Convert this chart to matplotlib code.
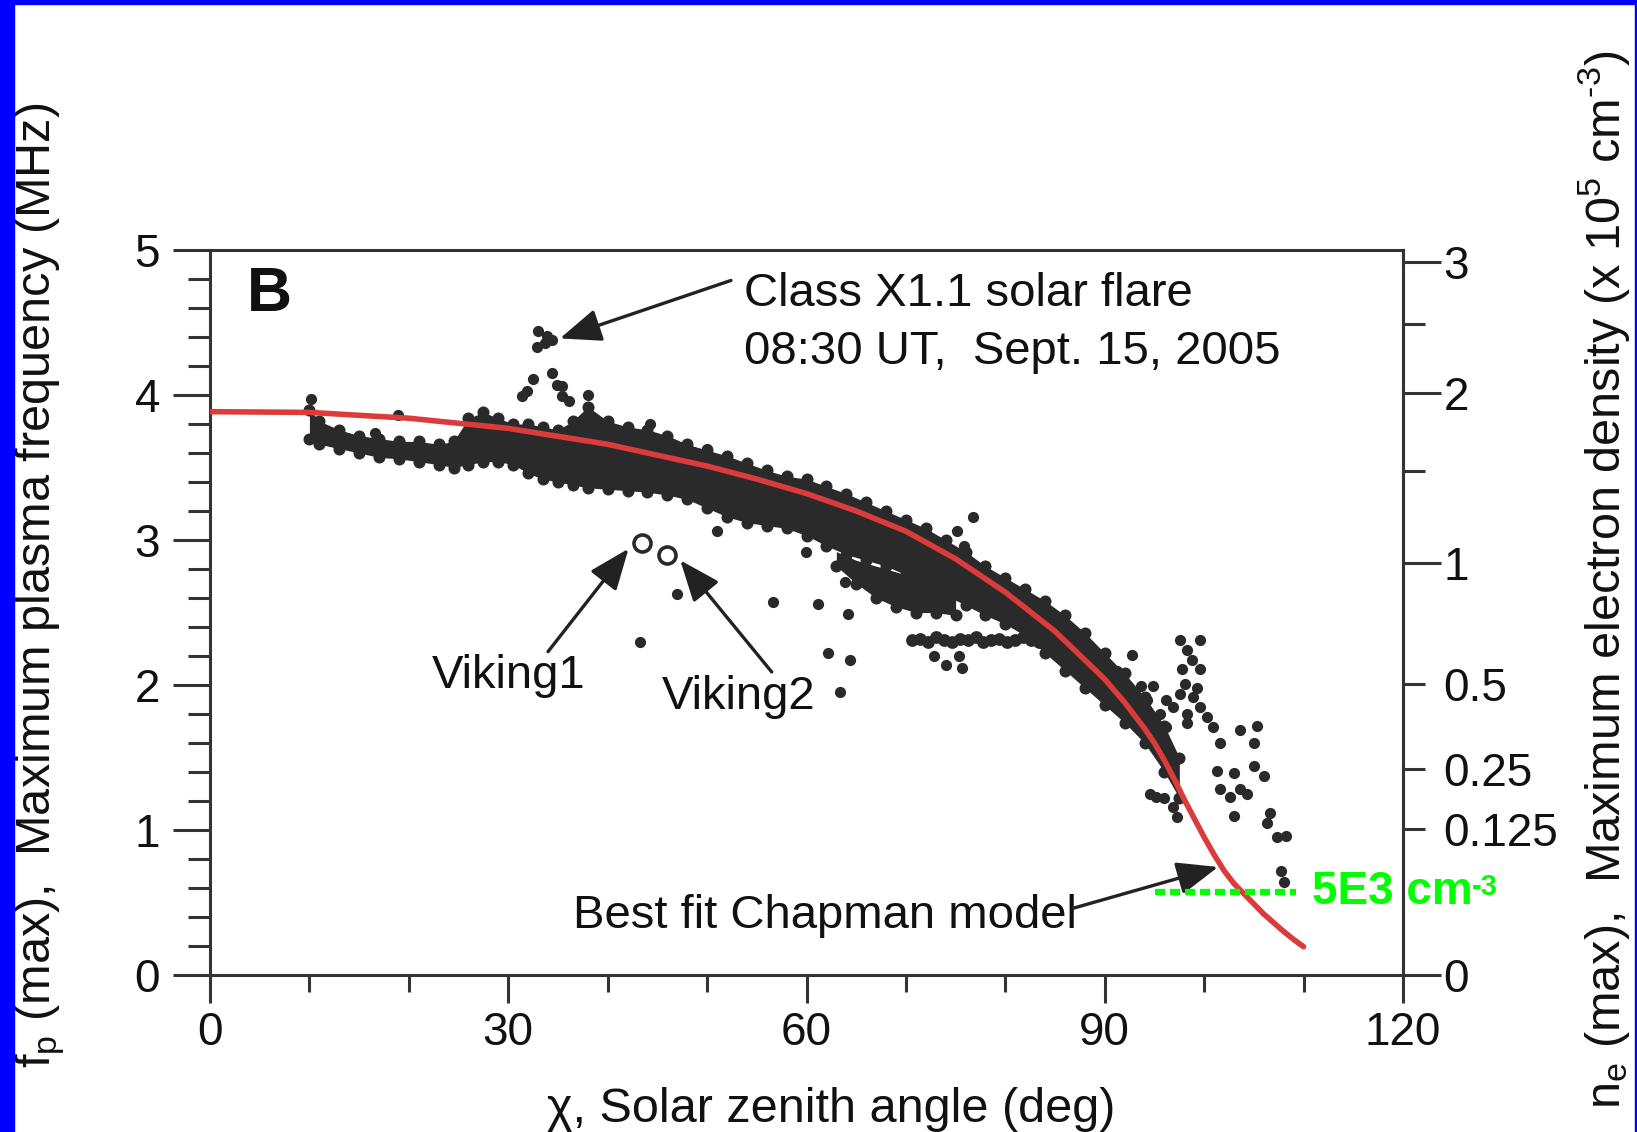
import numpy as np
import matplotlib
matplotlib.use("Agg")
import matplotlib.pyplot as plt
from matplotlib.patches import Rectangle

# ---------------- data ----------------
# Chapman model curve: solar zenith angle (deg) vs fp (MHz)
chap_x = [0, 10, 20, 30, 40, 50, 55, 60, 65, 70, 75, 80, 85, 90, 91, 92, 93, 94, 95, 96, 97, 98,
          99, 100, 101, 102, 103, 104, 105, 106, 107, 108, 109, 110]
chap_y = [3.885, 3.88, 3.84, 3.77, 3.66, 3.51, 3.42, 3.32, 3.20, 3.06, 2.87, 2.64, 2.37, 2.04,
          1.96, 1.88, 1.79, 1.70, 1.60, 1.48, 1.35, 1.21, 1.08, 0.95, 0.83, 0.72, 0.63, 0.56,
          0.49, 0.42, 0.36, 0.30, 0.245, 0.195]

# dense observation band (lower / upper envelope)
band_x = [10, 11, 13, 15, 17, 19, 21, 23, 24.5, 26, 27.5, 29, 30.5, 32, 33.5, 35, 36.5, 38,
          40, 42, 44, 46, 48, 50, 52, 54, 56, 58, 60, 62, 64, 66, 68, 70, 72, 74, 76, 78,
          80, 82, 84, 86, 88, 90, 92, 94, 96, 97.5]
band_lo = [3.70, 3.66, 3.63, 3.60, 3.57, 3.56, 3.54, 3.52, 3.50, 3.52, 3.54, 3.54, 3.52, 3.46, 3.42, 3.40, 3.38, 3.36,
           3.35, 3.34, 3.33, 3.31, 3.28, 3.22, 3.16, 3.12, 3.10, 3.08, 3.03, 2.96, 2.90, 2.86, 2.82, 2.76, 2.70, 2.62, 2.55, 2.48,
           2.42, 2.34, 2.22, 2.10, 1.98, 1.86, 1.74, 1.60, 1.40, 1.22]
band_hi = [3.90, 3.82, 3.76, 3.72, 3.70, 3.68, 3.68, 3.66, 3.68, 3.84, 3.88, 3.84, 3.80, 3.80, 3.78, 3.76, 3.82, 3.92,
           3.82, 3.78, 3.76, 3.72, 3.66, 3.62, 3.58, 3.53, 3.48, 3.44, 3.42, 3.37, 3.32, 3.26, 3.20, 3.14, 3.08, 3.00, 2.92, 2.82,
           2.74, 2.66, 2.58, 2.48, 2.36, 2.22, 2.08, 1.92, 1.72, 1.50]

# lower sub-branch (65-75 deg)
sub_x = [63, 65, 67, 69, 71, 73, 75]
sub_lo = [2.82, 2.70, 2.60, 2.54, 2.50, 2.50, 2.48]
sub_hi = [2.92, 2.86, 2.82, 2.78, 2.74, 2.68, 2.60]

# horizontal branch near 2.3 MHz
hb_x = [70.6, 71.4, 72.2, 73.0, 73.8, 74.6, 75.4, 76.2, 77.0, 77.8, 78.6, 79.4, 80.2,
        81.0, 81.8, 82.6, 83.4, 84.2, 85.0, 85.8, 86.6, 87.4]
hb_y = [2.31, 2.32, 2.30, 2.33, 2.31, 2.30, 2.32, 2.31, 2.33, 2.30, 2.31, 2.32, 2.30,
        2.31, 2.33, 2.31, 2.30, 2.32, 2.31, 2.30, 2.29, 2.28]

# scattered individual observations
pts_x = [10.2, 18.9, 16.6,
         33.0, 33.9, 34.4, 33.7, 32.9, 32.5, 34.4, 34.9, 35.4, 31.9, 31.4, 35.4, 36.1, 38.0,
         44.3, 50.0, 51.0, 47.0, 43.3, 56.6, 59.9, 61.2, 64.2, 63.9, 62.2, 64.4, 63.4,
         76.7, 75.1, 75.8, 72.8, 74.0, 75.3, 75.6,
         92.7, 91.2, 93.6, 94.9, 94.2, 96.2, 95.6, 96.9, 98.3, 99.6, 100.3, 100.9, 101.6,
         96.2, 95.3, 98.3, 98.9, 97.6,
         97.6, 99.6, 98.3, 98.8, 97.8, 99.6, 98.1, 99.3,
         101.3, 103.0, 105.0, 106.0, 103.6, 102.6, 104.3, 103.0, 101.6,
         103.6, 105.3, 105.0,
         106.6, 106.3, 107.3, 108.2, 107.7, 108.0,
         94.6, 96.0, 97.3, 96.9, 95.2]
pts_y = [3.97, 3.86, 3.74,
         4.44, 4.41, 4.38, 4.36, 4.33, 4.11, 4.15, 4.07, 4.06, 4.03, 3.99, 3.99, 3.96, 4.00,
         3.80, 3.63, 3.06, 2.63, 2.30, 2.57, 2.92, 2.56, 2.49, 2.71, 2.22, 2.17, 1.95,
         3.16, 3.06, 2.96, 2.20, 2.14, 2.20, 2.12,
         2.21, 2.10, 1.99, 1.99, 1.90, 1.90, 1.80, 1.85, 1.80, 1.85, 1.78, 1.71, 1.60,
         1.71, 1.62, 1.74, 1.92, 1.94,
         2.31, 2.31, 2.24, 2.17, 2.11, 2.11, 2.01, 1.98,
         1.41, 1.39, 1.44, 1.37, 1.28, 1.23, 1.25, 1.10, 1.28,
         1.69, 1.72, 1.60,
         1.12, 1.05, 0.95, 0.96, 0.72, 0.64,
         1.25, 1.22, 1.09, 1.16, 1.23]

# Viking lander measurements
viking_x = [43.5, 46.0]
viking_y = [2.98, 2.90]

# right-axis ticks (x 1e5 cm^-3)
ne_major = [0, 1, 2, 3]
ne_minor = [0.125, 0.25, 0.5, 1.5, 2.5]
ne_minor_labels = ["0.125", "0.25", "0.5", "", ""]
ne_line_fp = 0.57   # 5E3 cm^-3 level (MHz)

# ---------------- style ----------------
plt.rcParams["font.family"] = ["Liberation Sans", "DejaVu Sans"]
plt.rcParams["mathtext.fontset"] = "custom"
plt.rcParams["mathtext.rm"] = "Liberation Sans"
plt.rcParams["mathtext.it"] = "Liberation Sans:italic"
plt.rcParams["mathtext.bf"] = "Liberation Sans:bold"

W, H = 1637, 1132
fig = plt.figure(figsize=(W / 100, H / 100), dpi=100)
fig.patch.set_facecolor("white")

L, R, T, B = 210, 1403, 250, 975
ax = fig.add_axes([L / W, 1 - B / H, (R - L) / W, (B - T) / H])
ax.set_xlim(0, 120)
ax.set_ylim(0, 5)

dot = "#2a2a2a"
spc = "#333333"
txt = "#111111"
green = "#00ff00"

# data
ax.fill_between(band_x, band_lo, band_hi, color=dot, lw=0, zorder=2)
ax.scatter(band_x, band_lo, s=75, color=dot, lw=0, zorder=2)
ax.scatter(band_x, band_hi, s=75, color=dot, lw=0, zorder=2)
ax.fill_between(sub_x, sub_lo, sub_hi, color=dot, lw=0, zorder=2)
ax.scatter(sub_x, sub_lo, s=75, color=dot, lw=0, zorder=2)
ax.scatter(hb_x, hb_y, s=85, color=dot, lw=0, zorder=2)
ax.scatter(pts_x, pts_y, s=65, color=dot, lw=0, zorder=2)
ax.scatter(viking_x, viking_y, s=150, facecolor="white", edgecolor=dot, lw=2.6, zorder=3)

# model
ax.plot(chap_x, chap_y, color="#dc3b3b", lw=4.0, zorder=4, solid_capstyle="round",
        solid_joinstyle="round")

# green reference line
ax.plot([95.1, 109.2], [ne_line_fp, ne_line_fp], color=green, lw=4.5,
        dashes=(1.6, 0.8), zorder=5, clip_on=False)
t_green = ax.text(110.8, ne_line_fp, "5E3 cm", color=green, fontsize=33,
                  fontweight="bold", ha="left", va="center", zorder=6, clip_on=False)
ax.annotate("-3", xy=(1.0, 0.93), xycoords=t_green, ha="left", va="top", fontsize=21,
            fontweight="bold", color=green, annotation_clip=False, zorder=6)

# annotations
fs = 34
ax.text(3.7, 4.69, "B", fontsize=45, fontweight="bold", ha="left", va="center", color=txt)
ax.text(53.7, 4.70, "Class X1.1 solar flare", fontsize=fs, ha="left", va="center", color=txt)
ax.text(53.7, 4.30, "08:30 UT,  Sept. 15, 2005", fontsize=fs, ha="left", va="center", color=txt)
ax.text(22.3, 2.06, "Viking1", fontsize=fs, ha="left", va="center", color=txt)
ax.text(45.4, 1.92, "Viking2", fontsize=fs, ha="left", va="center", color=txt)
ax.text(36.5, 0.41, "Best fit Chapman model", fontsize=fs, ha="left", va="center", color=txt)

aprops = dict(arrowstyle="-|>,head_length=0.55,head_width=0.22", color="#222222",
              lw=2.4, mutation_scale=46, shrinkA=0, shrinkB=0)
ax.annotate("", xy=(35.2, 4.39), xytext=(52.4, 4.79), arrowprops=aprops)
ax.annotate("", xy=(42.1, 2.94), xytext=(34.0, 2.23), arrowprops=aprops)
ax.annotate("", xy=(47.3, 2.86), xytext=(56.5, 2.09), arrowprops=aprops)
ax.annotate("", xy=(101.4, 0.745), xytext=(86.8, 0.46), arrowprops=aprops)

# axes styling
for s in ax.spines.values():
    s.set_linewidth(2.2)
    s.set_color(spc)

ax.set_xticks([0, 30, 60, 90, 120])
ax.set_xticks([10, 20, 40, 50, 70, 80, 100, 110], minor=True)
ax.set_yticks([0, 1, 2, 3, 4, 5])
ax.set_yticks(np.round(np.arange(0.2, 5.0, 0.2), 1), minor=True)
ax.tick_params(axis="x", which="major", length=20, width=2.2, color=spc, direction="out",
               labelsize=33, pad=6, labelcolor=txt)
ax.tick_params(axis="x", which="minor", length=12, width=2.2, color=spc, direction="out")
ax.tick_params(axis="y", which="major", length=27, width=2.2, color=spc, direction="out",
               labelsize=33, pad=9, labelcolor=txt)
ax.tick_params(axis="y", which="minor", length=16, width=2.2, color=spc, direction="out")
ax.tick_params(axis="y", which="both", right=False)
ax.tick_params(axis="x", which="both", top=False)

def ne_from_fp(fp):
    return (np.asarray(fp, dtype=float) / 2.84) ** 2

def fp_from_ne(ne):
    return 2.84 * np.sqrt(np.clip(np.asarray(ne, dtype=float), 0, None))

sec = ax.secondary_yaxis("right", functions=(ne_from_fp, fp_from_ne))
sec.set_yticks(ne_major, labels=[str(v) for v in ne_major])
sec.set_yticks(ne_minor, labels=ne_minor_labels, minor=True)
sec.spines["right"].set_linewidth(2.2)
sec.spines["right"].set_color(spc)
sec.tick_params(axis="y", which="major", length=27, width=2.2, color=spc, labelsize=33,
                pad=2, labelcolor=txt)
sec.tick_params(axis="y", which="minor", length=16, width=2.2, color=spc, labelsize=33,
                pad=13, labelcolor=txt)

# axis titles
fig.text(831 / W, 10 / H, "\u03c7, Solar zenith angle (deg)", fontsize=35, ha="center",
         va="baseline", color=txt)
fig.text(50 / W, 1 - 585 / H, r"f$_{\rm p}$ (max),  Maximum plasma frequency (MHz)",
         fontsize=35, rotation=90, rotation_mode="anchor", ha="center", va="baseline", color=txt)
fig.text(1620 / W, 1 - 580 / H,
         r"n$_{\rm e}$ (max),  Maximum electron density (x 10$^{\rm 5}$ cm$^{\text{-3}}$)",
         fontsize=35, rotation=90, rotation_mode="anchor", ha="center", va="baseline", color=txt)

# blue frame
fig.patches.append(Rectangle((0, 0), 14 / W, 1, transform=fig.transFigure, color="#0000ff", zorder=10))
fig.patches.append(Rectangle((0, 1 - 4 / H), 1, 4 / H, transform=fig.transFigure, color="#0000ff", zorder=10))
fig.patches.append(Rectangle((1 - 2 / W, 0), 2 / W, 1, transform=fig.transFigure, color="#0000ff", zorder=10))

fig.savefig("out.png", dpi=100, facecolor="white")
